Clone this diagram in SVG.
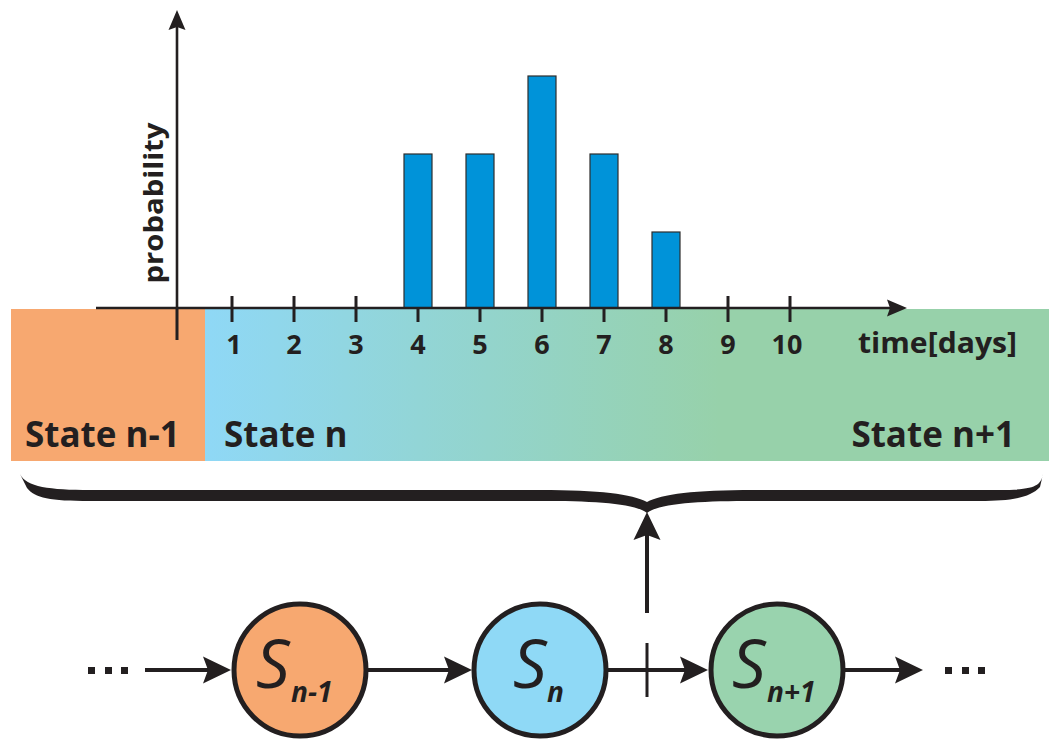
<svg xmlns="http://www.w3.org/2000/svg" width="1049" height="740" viewBox="0 0 1049 740">
<style>
.ink{fill:#231f20}
.lbl{font-family:"Open Sans","Liberation Sans",sans-serif;font-weight:700;fill:#231f20}
.tick{stroke:#231f20;stroke-width:3}
.bar{fill:#0093d9;stroke:#2d2d2d;stroke-width:1.2}
.node{stroke:#231f20;stroke-width:5}
.sym{font-family:"Open Sans","Liberation Sans",sans-serif;font-style:italic;fill:#231f20}
.conn{stroke:#231f20;stroke-width:4;fill:none}
</style>
<defs>
<linearGradient id="band" gradientUnits="userSpaceOnUse" x1="205" y1="0" x2="720" y2="0">
<stop offset="0" stop-color="#8fd8f6"/>
<stop offset="0.55" stop-color="#93d4cc"/>
<stop offset="1" stop-color="#97d1aa"/>
</linearGradient>
<marker id="ah" markerUnits="userSpaceOnUse" viewBox="0 -14 30 28" markerWidth="30" markerHeight="28" refX="5" refY="0" orient="auto" overflow="visible">
<path d="M0,-13.5 L28,0 L0,13.5 L5,0 Z" fill="#231f20"/>
</marker>
<marker id="axh" markerUnits="userSpaceOnUse" viewBox="0 -9 22 18" markerWidth="22" markerHeight="18" refX="3" refY="0" orient="auto" overflow="visible">
<path d="M0,-8.5 L20,0 L0,8.5 L3,0 Z" fill="#231f20"/>
</marker>
</defs>
<rect width="1049" height="740" fill="#ffffff"/>

<g id="state-band">
<rect x="11" y="309" width="194" height="152" fill="#f7a870"/>
<rect x="205" y="309" width="844" height="152" fill="url(#band)"/>
<text class="lbl" x="25" y="447" font-size="35">State n-1</text>
<text class="lbl" x="224" y="447" font-size="35">State n</text>
<text class="lbl" x="1015" y="447" font-size="35" text-anchor="end">State n+1</text>
</g>

<g id="chart">
<g class="tick">
<line x1="177" y1="308" x2="177" y2="340"/>
<line x1="232" y1="296" x2="232" y2="322"/>
<line x1="294" y1="296" x2="294" y2="322"/>
<line x1="356" y1="296" x2="356" y2="322"/>
<line x1="418" y1="300" x2="418" y2="322"/>
<line x1="480" y1="300" x2="480" y2="322"/>
<line x1="542" y1="300" x2="542" y2="322"/>
<line x1="604" y1="300" x2="604" y2="322"/>
<line x1="666" y1="300" x2="666" y2="322"/>
<line x1="728" y1="296" x2="728" y2="322"/>
<line x1="790" y1="296" x2="790" y2="322"/>
</g>
<rect class="bar" x="404" y="154" width="28" height="154"/>
<rect class="bar" x="466" y="154" width="28" height="154"/>
<rect class="bar" x="528" y="76" width="28" height="232"/>
<rect class="bar" x="590" y="154" width="28" height="154"/>
<rect class="bar" x="652" y="232" width="28" height="76"/>
<line x1="96" y1="308" x2="890" y2="308" stroke="#231f20" stroke-width="2.6" marker-end="url(#axh)"/>
<line x1="177" y1="308" x2="177" y2="27" stroke="#231f20" stroke-width="2.6" marker-end="url(#axh)"/>
<g class="lbl" font-size="27" text-anchor="middle">
<text x="234" y="354">1</text>
<text x="294" y="354">2</text>
<text x="356" y="354">3</text>
<text x="418" y="354">4</text>
<text x="480" y="354">5</text>
<text x="542" y="354">6</text>
<text x="604" y="354">7</text>
<text x="666" y="354">8</text>
<text x="728" y="354">9</text>
<text x="787" y="354">10</text>
</g>
<text class="lbl" x="858" y="353" font-size="28" textLength="159" lengthAdjust="spacingAndGlyphs">time[days]</text>
<text class="lbl" font-size="27" text-anchor="middle" transform="translate(163,203) rotate(-90)" textLength="161" lengthAdjust="spacingAndGlyphs">probability</text>
</g>

<g id="brace">
<path class="ink" d="M20,474 C26,487 50,490 90,490 L540,490 C600,490 632,494 647,502 C662,494 694,490 754,490 L1000,490 C1036,490 1041,485 1043,474 L1040,487 C1030,498 1010,501 980,501 L754,501 C700,501 660,503 647,513 C634,503 594,501 540,501 L90,501 C50,501 35,498 27,488 Z"/>
</g>

<g id="connectors">
<g class="ink">
<rect x="88" y="667" width="7" height="7"/>
<rect x="105" y="667" width="7" height="7"/>
<rect x="121" y="667" width="7" height="7"/>
<rect x="945" y="667" width="7" height="7"/>
<rect x="962" y="667" width="7" height="7"/>
<rect x="978" y="667" width="7" height="7"/>
</g>
<line class="conn" x1="145" y1="670" x2="208" y2="670" marker-end="url(#ah)"/>
<line class="conn" x1="368" y1="670" x2="449" y2="670" marker-end="url(#ah)"/>
<line class="conn" x1="607" y1="670" x2="685" y2="670" marker-end="url(#ah)"/>
<line class="conn" x1="845" y1="670" x2="900" y2="670" marker-end="url(#ah)"/>
<line class="conn" x1="647" y1="613" x2="647" y2="535" marker-end="url(#ah)"/>
<line class="tick" x1="647" y1="643" x2="647" y2="697"/>
</g>

<g id="node-sn-1">
<circle class="node" cx="300" cy="670" r="66" fill="#f7a870"/>
<text class="sym" x="256" y="688" font-size="67">S</text>
<text class="sym" x="291" y="702" font-size="28" font-weight="700">n-1</text>
</g>
<g id="node-sn">
<circle class="node" cx="540" cy="670" r="66" fill="#8fd9f6"/>
<text class="sym" x="513" y="688" font-size="67">S</text>
<text class="sym" x="547" y="702" font-size="28" font-weight="700">n</text>
</g>
<g id="node-sn1">
<circle class="node" cx="777" cy="670" r="66" fill="#99d3ae"/>
<text class="sym" x="732" y="688" font-size="67">S</text>
<text class="sym" x="767" y="702" font-size="28" font-weight="700">n+1</text>
</g>
</svg>
